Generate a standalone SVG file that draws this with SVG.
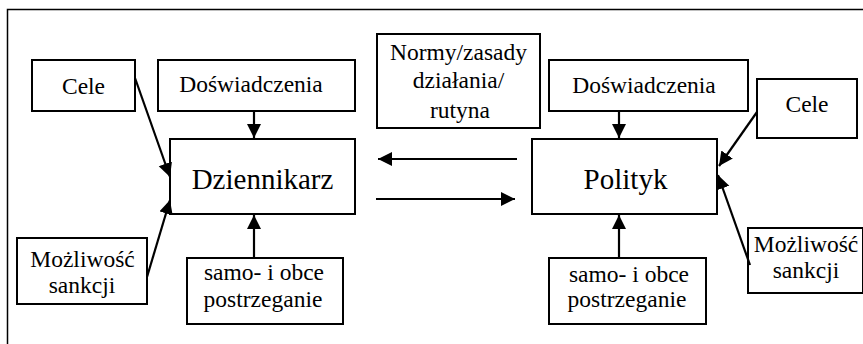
<svg xmlns="http://www.w3.org/2000/svg" width="863" height="344" viewBox="0 0 863 344">
<defs>
<marker id="ah" markerUnits="userSpaceOnUse" markerWidth="15" markerHeight="15" refX="14" refY="7" orient="auto">
<path d="M0,0 L14,7 L0,14 z" fill="#000"/>
</marker>
<style>
.box{fill:#fff;stroke:#000;stroke-width:2}
.t{font-size:23.5px;fill:#000;text-anchor:middle}
.big{font-size:29px}
.c{stroke:#000;stroke-width:2.2;fill:none;marker-end:url(#ah)}
</style>
</defs>
<rect width="863" height="344" fill="#fff"/>
<path d="M7.5,344 V9.5 H863" fill="none" stroke="#000" stroke-width="1.5"/>
<g font-family="'Liberation Serif', 'DejaVu Serif', serif">
<g id="cele-l"><rect class="box" x="32" y="60" width="103" height="51"/><text class="t" x="83.5" y="94">Cele</text></g>
<g id="dosw-l"><rect class="box" x="158" y="60" width="197" height="51"/><text class="t" x="251" y="92">Doświadczenia</text></g>
<g id="dziennikarz"><rect class="box" x="170" y="139" width="185" height="75"/><text class="t big" x="262.5" y="189">Dziennikarz</text></g>
<g id="mozl-l"><rect class="box" x="17" y="238" width="130" height="66"/><text class="t" x="82.5" y="267">Możliwość</text><text class="t" x="82" y="293">sankcji</text></g>
<g id="samo-l"><rect class="box" x="187" y="258" width="156" height="66"/><text class="t" x="264" y="280">samo- i obce</text><text class="t" x="263" y="307">postrzeganie</text></g>
<g id="normy"><rect class="box" x="377" y="34" width="163" height="94"/><text class="t" x="458.5" y="60">Normy/zasady</text><text class="t" x="458.5" y="88">działania/</text><text class="t" x="460" y="118">rutyna</text></g>
<g id="dosw-r"><rect class="box" x="549" y="60" width="199" height="51"/><text class="t" x="644" y="93">Doświadczenia</text></g>
<g id="polityk"><rect class="box" x="532" y="139" width="185" height="75"/><text class="t big" x="625.5" y="189">Polityk</text></g>
<g id="cele-r"><rect class="box" x="757" y="79" width="100" height="59"/><text class="t" x="807" y="112">Cele</text></g>
<g id="mozl-r"><rect class="box" x="748" y="228" width="115" height="65"/><text class="t" x="806" y="252">Możliwość</text><text class="t" x="806" y="278">sankcji</text></g>
<g id="samo-r"><rect class="box" x="549" y="258" width="157" height="66"/><text class="t" x="629" y="282">samo- i obce</text><text class="t" x="627" y="307">postrzeganie</text></g>
</g>
<g id="connectors">
<line class="c" x1="254" y1="111" x2="254" y2="138"/>
<line class="c" x1="254" y1="258" x2="254" y2="215"/>
<line class="c" x1="135" y1="78" x2="170" y2="177"/>
<line class="c" x1="147" y1="277" x2="170" y2="200"/>
<line class="c" x1="517" y1="159" x2="378" y2="159"/>
<line class="c" x1="376" y1="199" x2="515" y2="199"/>
<line class="c" x1="619" y1="111" x2="619" y2="138"/>
<line class="c" x1="619" y1="258" x2="619" y2="215"/>
<line class="c" x1="757" y1="112" x2="719" y2="166"/>
<line class="c" x1="750" y1="265" x2="718" y2="175"/>
</g>
</svg>
